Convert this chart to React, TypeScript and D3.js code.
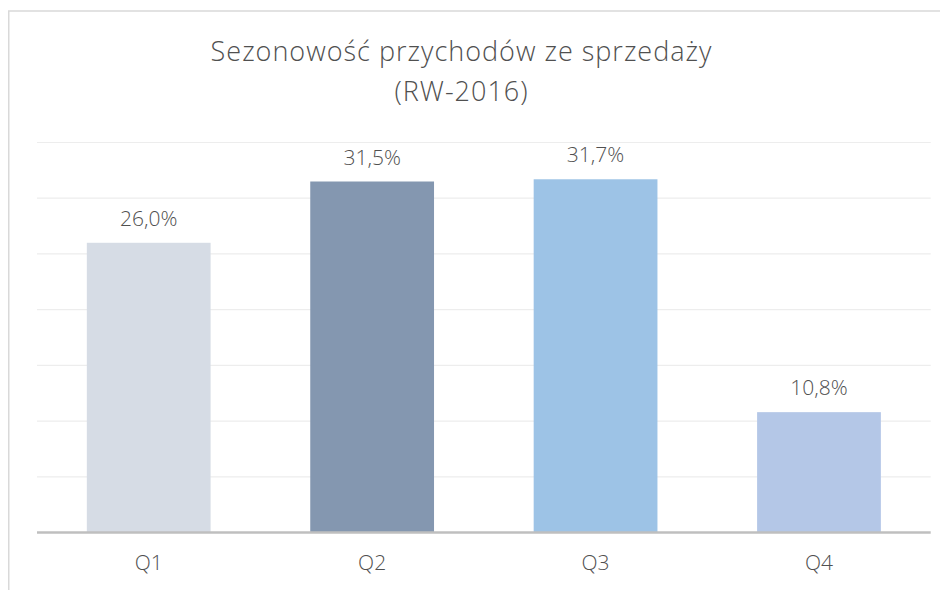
import * as d3 from "d3";

const categories = ["Q1", "Q2", "Q3", "Q4"];
const values = [26.0, 31.5, 31.7, 10.8];
const colors = ["#d6dce5", "#8497b0", "#9dc3e6", "#b4c7e7"];
const gridTicks = [5, 10, 15, 20, 25, 30, 35];
const titleLines = ["Sezonowość przychodów ze sprzedaży", "(RW-2016)"];

const W = 940;
const H = 582;
// page offset is 8px (body margin), coords below are svg-local
const plot = { left: 29, right: 922.7, top: 134.5, bottom: 524.5 };

const fmt = (v: number) => v.toFixed(1).replace(".", ",") + "%";

export default function App() {
  const x = d3
    .scaleBand<string>()
    .domain(categories)
    .range([plot.left, plot.right])
    .paddingInner(0.446)
    .paddingOuter(0.223);

  const y = d3.scaleLinear().domain([0, 35]).range([plot.bottom, plot.top]);

  const font = "'Open Sans', 'DejaVu Sans', sans-serif";

  return (
    <svg width={W} height={H} style={{ display: "block" }}>
      <rect x={0} y={0} width={W} height={H} fill="#ffffff" />
      <rect
        x={0.75}
        y={3}
        width={1200}
        height={1200}
        fill="none"
        stroke="#d9d9d9"
        strokeWidth={1.5}
      />

      {titleLines.map((t, i) => (
        <text
          key={t}
          x={453.5}
          y={53 + i * 40}
          textAnchor="middle"
          fontFamily={font}
          fontWeight={300}
          fontSize={27}
          fill="#505050"
          letterSpacing={1}
        >
          {t}
        </text>
      ))}

      {gridTicks.map((t) => (
        <line
          key={t}
          x1={plot.left}
          x2={plot.right}
          y1={y(t)}
          y2={y(t)}
          stroke="#ededed"
          strokeWidth={1.2}
        />
      ))}

      {categories.map((c, i) => (
        <g key={c}>
          <rect
            x={x(c)}
            y={y(values[i])}
            width={x.bandwidth()}
            height={y(0) - y(values[i])}
            fill={colors[i]}
          />
          <text
            x={(x(c) ?? 0) + x.bandwidth() / 2}
            y={y(values[i]) - 17}
            textAnchor="middle"
            fontFamily={font}
            fontWeight={300}
            fontSize={21}
            fill="#505050"
          >
            {fmt(values[i])}
          </text>
          <text
            x={(x(c) ?? 0) + x.bandwidth() / 2}
            y={plot.bottom + 37}
            textAnchor="middle"
            fontFamily={font}
            fontWeight={300}
            fontSize={21}
            fill="#505050"
          >
            {c}
          </text>
        </g>
      ))}

      <line
        x1={plot.left}
        x2={plot.right}
        y1={y(0)}
        y2={y(0)}
        stroke="#bfbfbf"
        strokeWidth={2.5}
      />
    </svg>
  );
}
